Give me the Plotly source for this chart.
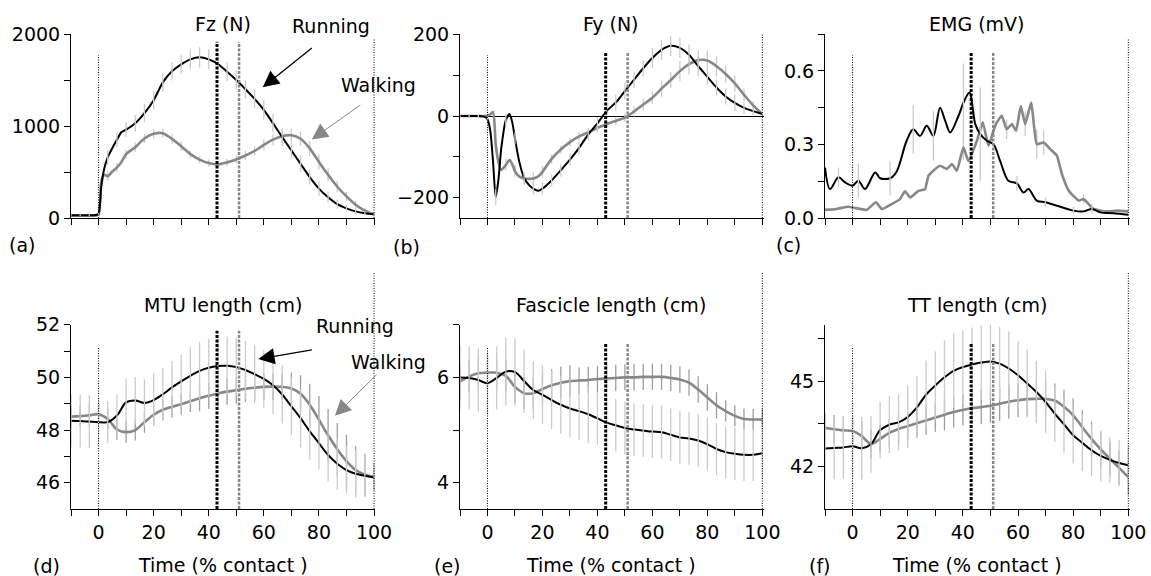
import plotly.graph_objects as go

W, H = 1151, 576
FONT = "DejaVu Sans"
FS = 19
BLACK = "#000000"
GREY = "#878787"
LIGHT_BAR = "#cbcbcb"
DARK_BAR = "#9e9e9e"

# ---------------- data ----------------
# common time grid (% contact) used by the smooth length panels
t34 = [-10, -6.67, -3.33, 0, 3.33, 6.67, 10, 13.33, 16.67, 20, 23.33, 26.67, 30, 33.33,
       36.67, 40, 43.33, 46.67, 50, 53.33, 56.67, 60, 63.33, 66.67, 70, 73.33, 76.67, 80,
       83.33, 86.67, 90, 93.33, 96.67, 100]

# (a) Fz (N)
fz_t = [-10, -6.67, -3.33, -1, 0, 1, 2, 3.33, 5, 6.67, 8.33, 10, 13.33, 16.67, 20, 23.33,
        26.67, 30, 33.33, 36.67, 40, 43.33, 46.67, 50, 53.33, 56.67, 60, 63.33, 66.67, 70,
        73.33, 76.67, 80, 83.33, 86.67, 90, 93.33, 96.67, 100]
fz_run = [30, 30, 30, 33, 45, 340, 530, 660, 760, 850, 935, 960, 1030, 1140, 1280, 1475,
          1595, 1670, 1725, 1747, 1725, 1675, 1590, 1500, 1400, 1295, 1175, 1030, 880, 735,
          590, 445, 320, 225, 150, 105, 72, 52, 40]
fz_run_sd = [10, 10, 10, 0, 20, 0, 0, 80, 0, 80, 0, 80, 90, 100, 100, 100, 100, 100, 110,
             110, 110, 110, 100, 100, 100, 100, 100, 100, 100, 90, 90, 80, 80, 60, 50, 40,
             30, 20, 10]
fz_walk = [25, 25, 25, 27, 36, 400, 470, 455, 505, 550, 610, 695, 770, 865, 915, 922, 860,
           780, 695, 635, 597, 583, 605, 637, 680, 730, 795, 852, 890, 900, 862, 757, 610,
           470, 340, 235, 145, 80, 40]
fz_walk_sd = [10, 10, 10, 0, 10, 0, 0, 50, 0, 50, 0, 50, 50, 50, 50, 50, 50, 50, 40, 40, 40,
              40, 40, 40, 50, 50, 60, 60, 70, 70, 80, 80, 80, 70, 60, 50, 40, 30, 10]

# (b) Fy (N)
fy_t = [-10, -6.67, -3.33, -1, 0, 1, 2, 3, 4, 5, 6.67, 8, 9, 10, 11.5, 13.33, 15, 16.67,
        18.5, 20, 23.33, 26.67, 30, 33.33, 36.67, 40, 43.33, 46.67, 50, 53.33, 56.67, 60,
        63.33, 66.67, 70, 73.33, 76.67, 80, 83.33, 86.67, 90, 93.33, 96.67, 100]
fy_run = [0, 0, 0, -2, -8, -35, -110, -199, -155, -80, -10, 5, -15, -55, -110, -152, -168,
          -178, -183, -178, -158, -133, -107, -78, -45, -18, 12, 33, 61, 89, 117, 142, 162,
          172, 167, 150, 122, 96, 70, 48, 32, 20, 12, 5]
fy_run_sd = [3, 3, 3, 0, 3, 0, 0, 20, 0, 0, 15, 0, 0, 15, 0, 15, 0, 15, 0, 15, 15, 15, 15,
             15, 15, 15, 20, 20, 20, 20, 20, 25, 25, 25, 25, 25, 25, 20, 20, 20, 20, 15, 10, 5]
fy_walk = [0, 0, 0, 0, 1, 4, 10, -70, -113, -132, -120, -108, -118, -135, -148, -153, -154,
           -153, -148, -137, -105, -82, -64, -50, -40, -29, -20, -12, -4, 11, 28, 45, 67, 88,
           110, 127, 137, 136, 122, 103, 80, 52, 26, 5]
fy_walk_sd = [3, 3, 3, 0, 3, 0, 0, 10, 0, 0, 15, 0, 0, 15, 0, 15, 0, 15, 0, 15, 12, 10, 10,
              10, 10, 10, 10, 10, 10, 12, 15, 15, 20, 20, 25, 25, 25, 25, 25, 20, 20, 15, 10, 5]

# (c) EMG (mV)
emg_run_t = [-10, -8.2, -5.1, -2.7, 0, 2.1, 4.5, 8.2, 10, 13.6, 16, 19.6, 22, 24.5, 26.9,
             29.3, 31.7, 33.6, 35.4, 38.4, 40.2, 42.4, 44.5, 46.3, 48.7, 51.1, 53.5, 56.5,
             59.6, 62, 63.8, 66.8, 69.9, 74.1, 80.1, 83.8, 86.8, 89.8, 94.6, 100]
emg_run = [0.206, 0.118, 0.166, 0.145, 0.132, 0.152, 0.118, 0.186, 0.162, 0.162, 0.19,
           0.315, 0.362, 0.335, 0.376, 0.335, 0.45, 0.396, 0.349, 0.416, 0.47, 0.512, 0.383,
           0.342, 0.315, 0.301, 0.233, 0.152, 0.141, 0.104, 0.118, 0.071, 0.064, 0.05, 0.03,
           0.027, 0.037, 0.023, 0.019, 0.013]
emg_run_sd = [0, 0, 0.04, 0, 0, 0.07, 0, 0, 0, 0.07, 0, 0, 0.1, 0, 0, 0.1, 0, 0, 0, 0,
              0.16, 0, 0, 0.19, 0, 0, 0, 0, 0.03, 0, 0, 0, 0.02, 0, 0.015, 0, 0.02, 0, 0, 0]
emg_walk_t = [-10, -5.8, -1.5, 2.7, 5.1, 8.5, 10.6, 14.2, 17.2, 19, 20.9, 23.9, 26.3, 27.5,
              29.3, 31.7, 34.2, 36, 37.8, 40.2, 42, 45.1, 47.2, 49.3, 51.1, 52.3, 54.1, 55.9,
              57.8, 59.3, 61, 62.6, 64.8, 66.8, 69.3, 71.7, 74.1, 75.9, 78.4, 82, 83.8, 87.4,
              92.3, 95.9, 100]
emg_walk = [0.033, 0.037, 0.046, 0.037, 0.033, 0.064, 0.037, 0.057, 0.077, 0.109, 0.084,
            0.111, 0.118, 0.172, 0.193, 0.213, 0.2, 0.22, 0.193, 0.288, 0.233, 0.315, 0.39,
            0.295, 0.356, 0.39, 0.417, 0.362, 0.383, 0.356, 0.457, 0.383, 0.471, 0.301, 0.308,
            0.281, 0.254, 0.18, 0.111, 0.071, 0.077, 0.037, 0.027, 0.03, 0.027]
emg_walk_sd = [0, 0, 0, 0, 0, 0, 0, 0, 0, 0, 0, 0, 0, 0, 0, 0, 0, 0, 0, 0.05, 0, 0, 0, 0, 0,
               0, 0, 0.04, 0, 0, 0, 0.05, 0, 0.06, 0.05, 0, 0, 0, 0, 0, 0.02, 0, 0, 0, 0]

# (d) MTU length (cm)
mtu_run = [48.35, 48.34, 48.32, 48.3, 48.3, 48.55, 49.05, 49.12, 49.03, 49.14, 49.36, 49.62,
           49.85, 50.06, 50.25, 50.37, 50.43, 50.44, 50.39, 50.28, 50.12, 49.94, 49.7, 49.35,
           48.9, 48.45, 47.95, 47.5, 47.05, 46.72, 46.48, 46.34, 46.26, 46.2]
mtu_run_sd = [1.0, 1.0, 1.0, 0.9, 0.8, 0.8, 0.9, 0.9, 0.9, 1.0, 1.0, 1.0, 1.0, 1.1, 1.1, 1.1,
              1.1, 1.1, 1.1, 1.1, 1.1, 1.1, 1.1, 1.1, 1.1, 1.1, 1.1, 1.0, 1.0, 1.0, 0.9, 0.9,
              0.8, 0.5]
mtu_walk = [48.51, 48.53, 48.56, 48.6, 48.42, 48.02, 47.92, 48.0, 48.3, 48.58, 48.77, 48.88,
            48.98, 49.09, 49.21, 49.3, 49.39, 49.46, 49.51, 49.57, 49.61, 49.64, 49.65, 49.64,
            49.58, 49.38, 48.96, 48.39, 47.8, 47.27, 46.82, 46.48, 46.3, 46.22]
mtu_walk_sd = [0.4, 0.4, 0.4, 0.4, 0.4, 0.4, 0.4, 0.4, 0.4, 0.4, 0.4, 0.4, 0.4, 0.4, 0.5,
               0.5, 0.5, 0.5, 0.5, 0.5, 0.5, 0.5, 0.5, 0.5, 0.6, 0.7, 0.8, 0.9, 1.0, 1.0,
               1.0, 0.9, 0.8, 0.5]

# (e) Fascicle length (cm)
fas_run = [6.0, 5.99, 5.95, 5.89, 5.99, 6.11, 6.1, 5.93, 5.76, 5.67, 5.57, 5.48, 5.41, 5.36,
           5.3, 5.22, 5.14, 5.09, 5.04, 5.01, 4.99, 4.97, 4.96, 4.91, 4.86, 4.84, 4.8, 4.73,
           4.64, 4.58, 4.55, 4.53, 4.53, 4.56]
fas_run_sd = [0.6, 0.6, 0.6, 0.6, 0.6, 0.65, 0.65, 0.6, 0.55, 0.55, 0.55, 0.55, 0.55, 0.55,
              0.55, 0.5, 0.5, 0.5, 0.5, 0.5, 0.5, 0.5, 0.5, 0.5, 0.5, 0.5, 0.5, 0.5, 0.5,
              0.5, 0.5, 0.5, 0.5, 0.5]
fas_walk = [5.92, 6.02, 6.08, 6.09, 6.09, 6.03, 5.82, 5.7, 5.7, 5.78, 5.85, 5.9, 5.93, 5.94,
            5.95, 5.97, 5.98, 5.99, 6.0, 6.0, 6.01, 6.01, 6.01, 5.99, 5.96, 5.9, 5.77, 5.62,
            5.47, 5.36, 5.27, 5.21, 5.2, 5.2]
fas_walk_sd = [0.3, 0.3, 0.3, 0.3, 0.3, 0.3, 0.3, 0.3, 0.3, 0.3, 0.3, 0.3, 0.3, 0.25, 0.25,
               0.25, 0.25, 0.25, 0.25, 0.25, 0.25, 0.25, 0.25, 0.25, 0.25, 0.25, 0.25, 0.25,
               0.25, 0.2, 0.2, 0.2, 0.2, 0.2]

# (f) TT length (cm)
tt_run = [42.63, 42.65, 42.67, 42.71, 42.64, 42.78, 43.28, 43.47, 43.55, 43.74, 44.08, 44.53,
          44.85, 45.14, 45.37, 45.5, 45.59, 45.66, 45.7, 45.62, 45.45, 45.21, 44.92, 44.62,
          44.27, 43.86, 43.48, 43.1, 42.83, 42.57, 42.37, 42.23, 42.12, 42.04]
tt_run_sd = [1.1, 1.1, 1.1, 1.1, 1.1, 1.0, 1.0, 1.0, 1.0, 1.1, 1.1, 1.2, 1.2, 1.3, 1.3, 1.3,
             1.3, 1.3, 1.3, 1.3, 1.3, 1.2, 1.2, 1.1, 1.1, 1.0, 1.0, 1.0, 1.0, 0.9, 0.9, 0.8,
             0.8, 0.7]
tt_walk = [43.36, 43.31, 43.27, 43.25, 43.07, 42.8, 42.97, 43.18, 43.32, 43.42, 43.52, 43.62,
           43.72, 43.82, 43.92, 43.99, 44.05, 44.09, 44.14, 44.21, 44.28, 44.33, 44.37, 44.38,
           44.38, 44.32, 44.1, 43.8, 43.38, 42.97, 42.6, 42.27, 41.95, 41.62]
tt_walk_sd = [0.5, 0.5, 0.5, 0.5, 0.5, 0.5, 0.5, 0.5, 0.5, 0.5, 0.5, 0.5, 0.5, 0.55, 0.55,
              0.55, 0.55, 0.6, 0.6, 0.6, 0.6, 0.6, 0.6, 0.6, 0.6, 0.6, 0.6, 0.6, 0.6, 0.6,
              0.6, 0.6, 0.6, 0.6]

# event times (% contact) marked with dashed lines
event_run = 43
event_walk = 51

# tick labels
x_ticks_top = [-10, 0, 10, 20, 30, 40, 50, 60, 70, 80, 90, 100]
x_ticks_bottom = [0, 20, 40, 60, 80, 100]
x_minor_bottom = [-10, 10, 30, 50, 70, 90]

panel_titles = ["Fz (N)", "Fy (N)", "EMG (mV)", "MTU length (cm)", "Fascicle length (cm)",
                "TT length (cm)"]
panel_letters = ["(a)", "(b)", "(c)", "(d)", "(e)", "(f)"]
x_title = "Time (% contact )"

# ---------------- layout geometry (pixels) ----------------
col_px = [(71, 375.4), (460, 763.7), (825, 1129.7)]
row_px = [(34, 218), (324.5, 509)]


def dom_x(c):
    return [col_px[c][0] / W, col_px[c][1] / W]


def dom_y(r):
    return [1 - row_px[r][1] / H, 1 - row_px[r][0] / H]


panels = [
    dict(t_run=fz_t, run=fz_run, run_sd=fz_run_sd, t_walk=fz_t, walk=fz_walk, walk_sd=fz_walk_sd,
         s_run=0.7, s_walk=0.7, walk_bar=LIGHT_BAR, yrange=[0, 2001], yt=[0, 1000, 2000],
         ytt=None, ym=[500, 1500], dot0=0.886, dot100=0.973, dash_top=0.958),
    dict(t_run=fy_t, run=fy_run, run_sd=fy_run_sd, t_walk=fy_t, walk=fy_walk, walk_sd=fy_walk_sd,
         s_run=0.7, s_walk=0.7, walk_bar=LIGHT_BAR, yrange=[-250, 201], yt=[-200, 0, 200],
         ytt=None, ym=[-100, 100], dot0=0.886, dot100=1.0, dash_top=0.90),
    dict(t_run=emg_run_t, run=emg_run, run_sd=emg_run_sd, t_walk=emg_walk_t, walk=emg_walk,
         walk_sd=emg_walk_sd, s_run=0.9, s_walk=0.4, walk_bar=LIGHT_BAR, yrange=[0, 0.7505],
         yt=[0, 0.3, 0.6], ytt=["0.0", "0.3", "0.6"], ym=[0.15, 0.45, 0.75],
         dot0=0.886, dot100=0.975, dash_top=0.90),
    dict(t_run=t34, run=mtu_run, run_sd=mtu_run_sd, t_walk=t34, walk=mtu_walk, walk_sd=mtu_walk_sd,
         s_run=1.0, s_walk=1.0, walk_bar=DARK_BAR, yrange=[45, 52.01], yt=[46, 48, 50, 52],
         ytt=None, ym=[47, 49, 51], dot0=0.873, dot100=1.285, dash_top=0.966),
    dict(t_run=t34, run=fas_run, run_sd=fas_run_sd, t_walk=t34, walk=fas_walk, walk_sd=fas_walk_sd,
         s_run=1.0, s_walk=1.0, walk_bar=DARK_BAR, yrange=[3.5, 7.005], yt=[4, 6], ytt=None,
         ym=[5, 7], dot0=0.88, dot100=1.285, dash_top=0.901),
    dict(t_run=t34, run=tt_run, run_sd=tt_run_sd, t_walk=t34, walk=tt_walk, walk_sd=tt_walk_sd,
         s_run=1.0, s_walk=1.0, walk_bar=DARK_BAR, yrange=[40.5, 47], yt=[42, 45], ytt=None,
         ym=[43.5, 46.5], dot0=0.876, dot100=1.285, dash_top=0.898),
]

fig = go.Figure()
layout = dict(
    width=W, height=H, margin=dict(l=0, r=0, t=0, b=0, autoexpand=False), autosize=False,
    paper_bgcolor="white", plot_bgcolor="white", showlegend=False,
    font=dict(family=FONT, size=FS, color=BLACK),
)
shapes = []
annotations = []
tick_font = dict(family=FONT, size=FS, color=BLACK)


def bar_trace(t, y, sd, color, xa, ya):
    return go.Scatter(
        x=t, y=y, mode="markers", xaxis=xa, yaxis=ya,
        marker=dict(size=1, color="rgba(0,0,0,0)"), hoverinfo="skip",
        error_y=dict(type="data", array=sd, visible=True, width=0, thickness=1.3, color=color))


for i, p in enumerate(panels):
    r, c = divmod(i, 3)
    n = "" if i == 0 else str(i + 1)
    xa, ya = "x" + n, "y" + n
    bottom = r == 1

    # walking: SD bars then mean line; running: mean line then SD bars (bars over the line)
    fig.add_trace(bar_trace(p["t_walk"], p["walk"], p["walk_sd"], p["walk_bar"], xa, ya))
    fig.add_trace(go.Scatter(
        x=p["t_walk"], y=p["walk"], mode="lines", xaxis=xa, yaxis=ya, name="Walking",
        line=dict(color=GREY, width=2.6, shape="spline", smoothing=p["s_walk"])))
    fig.add_trace(go.Scatter(
        x=p["t_run"], y=p["run"], mode="lines", xaxis=xa, yaxis=ya, name="Running",
        line=dict(color=BLACK, width=2, shape="spline", smoothing=p["s_run"])))
    fig.add_trace(bar_trace(p["t_run"], p["run"], p["run_sd"], LIGHT_BAR, xa, ya))

    common = dict(showline=True, linecolor=BLACK, linewidth=1, ticks="outside", ticklen=6,
                  tickwidth=1, tickcolor=BLACK, showgrid=False, zeroline=False,
                  tickfont=tick_font, fixedrange=True, automargin=False)
    if bottom:
        xaxis = dict(domain=dom_x(c), range=[-10, 100.5], anchor=ya, tickmode="array",
                     tickvals=x_ticks_bottom, showticklabels=True,
                     minor=dict(tickmode="array", tickvals=x_minor_bottom, ticks="outside",
                                ticklen=6, tickwidth=1, tickcolor=BLACK, showgrid=False),
                     **common)
    else:
        xaxis = dict(domain=dom_x(c), range=[-10, 100.5], anchor=ya, tickmode="array",
                     tickvals=x_ticks_top, showticklabels=False, **common)
    yaxis = dict(domain=dom_y(r), range=p["yrange"], anchor=xa, tickmode="array",
                 tickvals=p["yt"],
                 minor=dict(tickmode="array", tickvals=p["ym"], ticks="outside",
                            ticklen=6, tickwidth=1, tickcolor=BLACK, showgrid=False),
                 **common)
    if p["ytt"]:
        yaxis["ticktext"] = p["ytt"]
    if i == 1:
        yaxis["zeroline"] = True
        yaxis["zerolinecolor"] = BLACK
        yaxis["zerolinewidth"] = 1
    layout["xaxis" + n] = xaxis
    layout["yaxis" + n] = yaxis

    yd = ya + " domain"
    shapes += [
        dict(type="line", xref=xa, yref=yd, x0=0, x1=0, y0=0, y1=p["dot0"],
             line=dict(color=BLACK, width=1, dash="1px,1.5px"), layer="above"),
        dict(type="line", xref=xa, yref=yd, x0=100, x1=100, y0=0, y1=p["dot100"],
             line=dict(color=BLACK, width=1, dash="1px,1.5px"), layer="above"),
        dict(type="line", xref=xa, yref=yd, x0=event_walk, x1=event_walk, y0=0,
             y1=p["dash_top"], line=dict(color=GREY, width=2.5, dash="3px,1.5px"), layer="above"),
        dict(type="line", xref=xa, yref=yd, x0=event_run, x1=event_run, y0=0,
             y1=p["dash_top"], line=dict(color=BLACK, width=3, dash="3px,1.5px"), layer="above"),
    ]

    # panel title
    cx = (col_px[c][0] + col_px[c][1] - 1.4) / 2
    ty = 23.5 if r == 0 else 304.5
    annotations.append(dict(text=panel_titles[i], xref="paper", yref="paper", x=cx / W,
                            y=1 - ty / H, xanchor="center", yanchor="middle",
                            showarrow=False, font=tick_font))
    if bottom:
        annotations.append(dict(text=x_title, xref="paper", yref="paper", x=cx / W,
                                y=1 - 565 / H, xanchor="center", yanchor="middle",
                                showarrow=False, font=tick_font))

# panel letters
letter_pos = [(6.5, 245), (391, 247), (774, 245), (31, 566), (432, 566), (807, 566)]
for txt, (lx, ly) in zip(panel_letters, letter_pos):
    annotations.append(dict(text=txt, xref="paper", yref="paper", x=lx / W, y=1 - ly / H,
                            xanchor="left", yanchor="middle", showarrow=False, font=tick_font))

# Running / Walking labels and arrows
label_pos = [("Running", 290, 26), ("Walking", 339, 85), ("Running", 314, 326),
             ("Walking", 349, 362)]
for txt, lx, ly in label_pos:
    annotations.append(dict(text=txt, xref="paper", yref="paper", x=lx / W, y=1 - ly / H,
                            xanchor="left", yanchor="middle", showarrow=False, font=tick_font))

arrows = [
    ("x", "y", 59.6, 1421, 50.6, -40.6, BLACK, 1.3, 2.5),
    ("x", "y", 77.4, 855, 50, -35.3, GREY, 1.0, 3.2),
    ("x4", "y4", 58, 50.7, 55, -9.3, BLACK, 1.3, 2.5),
    ("x4", "y4", 85.8, 48.54, 43.3, -42.7, GREY, 1.0, 3.2),
]
for xr, yr, hx, hy, ax, ay, col, wd, sz in arrows:
    annotations.append(dict(text="", xref=xr, yref=yr, x=hx, y=hy, ax=ax, ay=ay,
                            showarrow=True, arrowhead=2, arrowsize=sz, arrowwidth=wd,
                            arrowcolor=col))

layout["shapes"] = shapes
layout["annotations"] = annotations
fig.update_layout(**layout)

pin_page = (
    "document.documentElement.style.margin='0';document.documentElement.style.padding='0';"
    "document.body.style.margin='0';document.body.style.padding='0';"
    "document.body.style.overflow='hidden';document.documentElement.style.overflow='hidden';"
    "var d=document.getElementById('{plot_id}');"
    "d.style.position='fixed';d.style.left='0px';d.style.top='0px';"
)
fig.write_html("out.html", config={"displayModeBar": False, "staticPlot": True},
               post_script=pin_page)
